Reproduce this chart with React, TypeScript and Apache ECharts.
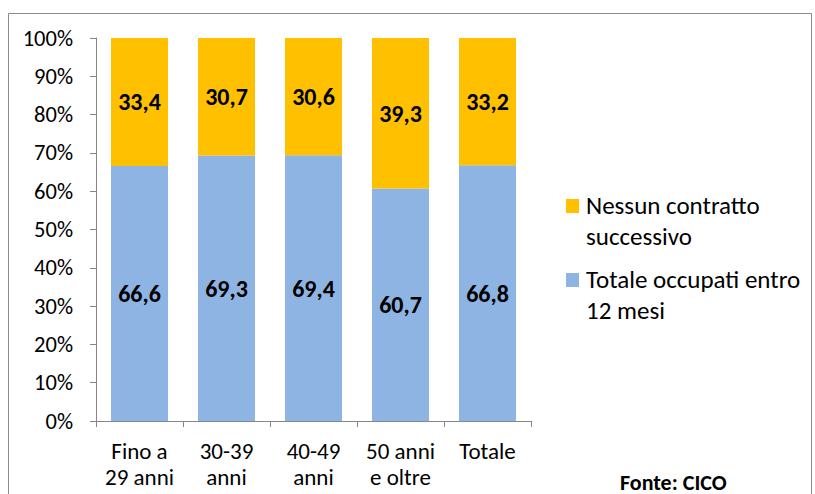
import React, { useEffect, useRef } from "react";
import * as echarts from "echarts";

const categories = ["Fino a\n29 anni", "30-39\nanni", "40-49\nanni", "50 anni\ne oltre", "Totale"];
const occupati = [66.6, 69.3, 69.4, 60.7, 66.8];
const nessun = [33.4, 30.7, 30.6, 39.3, 33.2];
const seriesNames = ["Totale occupati entro 12 mesi", "Nessun contratto successivo"];
const seriesColors = ["#8EB4E3", "#FFC000"];
const legendOrder = [1, 0];
const legendLines = [
  ["Totale occupati entro", "12 mesi"],
  ["Nessun contratto", "successivo"],
];
const sourceText = "Fonte: CICO";

const FONT = "Carlito, Lato, 'Open Sans', sans-serif";

export default function App() {
  const ref = useRef<HTMLDivElement>(null);
  useEffect(() => {
    const chart = echarts.init(ref.current!, null, { renderer: "svg" });
    const label = {
      show: true,
      position: "inside",
      fontFamily: FONT,
      fontSize: 24,
      fontWeight: "bold",
      color: "#000",
      formatter: (p: any) => String(p.value).replace(".", ","),
    };
    const legendGraphics: any[] = [];
    legendOrder.forEach((si, i) => {
      const y0 = 199 + i * 74;
      legendGraphics.push({
        type: "rect",
        shape: { x: 566, y: y0, width: 13, height: 14 },
        style: { fill: seriesColors[si] },
        silent: true,
      });
      legendGraphics.push({
        type: "text",
        x: 586,
        y: y0 + 6 - 15.5,
        style: {
          text: legendLines[si].join("\n"),
          font: `25px ${FONT}`,
          lineHeight: 31,
          fill: "#000",
          verticalAlign: "top",
        },
        silent: true,
      });
    });
    chart.setOption({
      animation: false,
      backgroundColor: "#fff",
      textStyle: { fontFamily: FONT },
      grid: { left: 96, top: 38, width: 435, bottom: 73, containLabel: false },
      xAxis: {
        type: "category",
        data: categories,
        axisLine: { lineStyle: { color: "#868686" } },
        axisTick: { show: true, length: 6, lineStyle: { color: "#868686" } },
        axisLabel: {
          color: "#000",
          fontSize: 23,
          lineHeight: 26,
          margin: 17,
          interval: 0,
          hideOverlap: false,
          fontFamily: FONT,
        },
      },
      yAxis: {
        type: "value",
        min: 0,
        max: 100,
        interval: 10,
        axisLine: { show: true, lineStyle: { color: "#868686" } },
        axisTick: { show: true, length: 6, lineStyle: { color: "#868686" } },
        splitLine: { show: false },
        axisLabel: { color: "#000", fontSize: 22.5, margin: 23, formatter: "{value}%", fontFamily: FONT },
      },
      graphic: [
        {
          type: "rect",
          shape: { x: 8.5, y: 13.5, width: 803, height: 500 },
          style: { fill: "none", stroke: "#8c8c8c", lineWidth: 1 },
          silent: true,
        },
        ...legendGraphics,
        {
          type: "text",
          x: 620,
          y: 493,
          style: { text: sourceText, font: `bold 22px ${FONT}`, fill: "#000", verticalAlign: "bottom" },
          silent: true,
        },
      ],
      series: [
        {
          name: seriesNames[0],
          type: "bar",
          stack: "a",
          data: occupati,
          barWidth: 57,
          itemStyle: { color: seriesColors[0] },
          label,
        },
        {
          name: seriesNames[1],
          type: "bar",
          stack: "a",
          data: nessun,
          barWidth: 57,
          itemStyle: { color: seriesColors[1] },
          label,
        },
      ],
    });
    return () => chart.dispose();
  }, []);
  return (
    <div
      ref={ref}
      style={{ position: "absolute", left: 0, top: 0, width: 815, height: 494 }}
    />
  );
}
